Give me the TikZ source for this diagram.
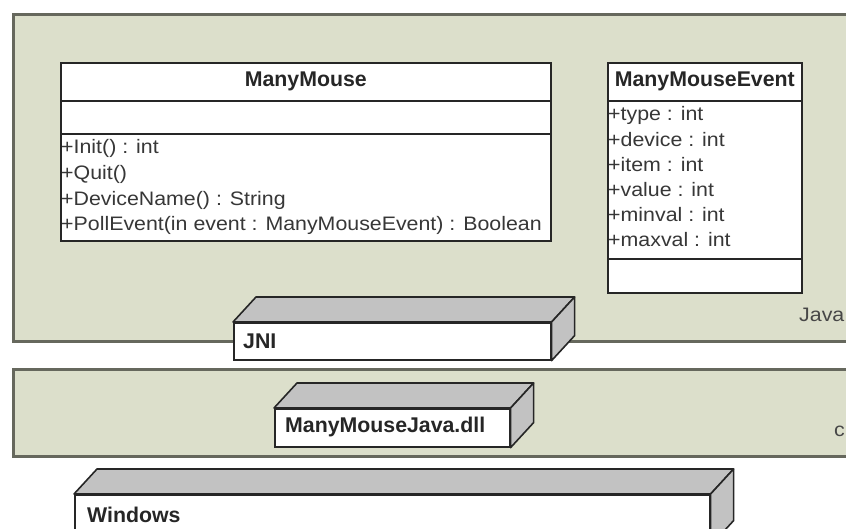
\documentclass[tikz,border=0pt]{standalone}
\usepackage{fontspec}
\setmainfont{Liberation Sans}
\newfontfamily\umlfont[FakeStretch=1.095]{Liberation Sans}
\usetikzlibrary{calc}

\definecolor{pkgfill}{HTML}{DCDFCB}
\definecolor{pkgline}{HTML}{66685D}
\definecolor{slabside}{HTML}{C2C2C2}
\definecolor{ink}{HTML}{262626}

\tikzset{
  pkg/.style={draw=pkgline, line width=2.6pt, fill=pkgfill, inner sep=0pt},
  classbox/.style={draw=ink, line width=1.6pt, fill=white, inner sep=0pt},
  divider/.style={draw=ink, line width=1.6pt},
  classname/.style={font=\fontsize{21.3}{25}\selectfont\bfseries, text=ink, inner sep=0pt},
  member/.style={font=\umlfont\fontsize{19.5}{23}\selectfont, text=ink!92!white, anchor=west, inner sep=1pt},
  slabfront/.style={draw=ink, line width=1.6pt, fill=white, inner sep=0pt},
  slabface/.style={draw=ink, line width=1.6pt, fill=slabside, line join=round},
  slablabel/.style={font=\fontsize{21.3}{25}\selectfont\bfseries, text=ink, anchor=west, inner sep=0pt},
  pkglabel/.style={font=\umlfont\fontsize{19.5}{23}\selectfont, text=ink!85!white, anchor=west, inner sep=0pt},
}

% top and right faces of a 3D slab whose front face is node #1
\newcommand\slabsides[1]{%
  \path[slabface] (#1.north west) -- ++(23,-25) -- ($(#1.north east)+(23,-25)$) -- (#1.north east) -- cycle;
  \path[slabface] (#1.north east) -- ++(23,-25) -- ($(#1.south east)+(23,-25)$) -- (#1.south east) -- cycle;
}

\begin{document}
\begin{tikzpicture}[x=1pt,y=-1pt]
\useasboundingbox (0,0) rectangle (846,528);
\fill[white] (0,0) rectangle (846,528);
\clip (0,0) rectangle (846,528);

% packages
\node[pkg, minimum width=880pt, minimum height=327pt, anchor=north west] (java) at (12,13) {};
\node[pkg, minimum width=880pt, minimum height=87pt, anchor=north west] (cpkg) at (12,368) {};
\node[pkglabel] (javalabel) at (799,315) {Java};
\node[pkglabel] (clabel) at (834,431) {c};

% class ManyMouse
\node[classbox, minimum width=490pt, minimum height=178pt, anchor=north west] (mm) at (60,62) {};
\path[divider] ($(mm.north west)+(0,39)$) -- ($(mm.north east)+(0,39)$);
\path[divider] ($(mm.north west)+(0,72)$) -- ($(mm.north east)+(0,72)$);
\node[classname] (mmname) at ($(mm.north)+(0,19.5)$) {ManyMouse};
\node[member] (mm1) at (60,148) {+Init() : int};
\node[member] (mm2) at (60,174) {+Quit()};
\node[member] (mm3) at (60,200) {+DeviceName() : String};
\node[member] (mm4) at (60,225) {+PollEvent(in event : ManyMouseEvent) : Boolean};

% class ManyMouseEvent
\node[classbox, minimum width=194pt, minimum height=230pt, anchor=north west] (mme) at (607,62) {};
\path[divider] ($(mme.north west)+(0,39)$) -- ($(mme.north east)+(0,39)$);
\path[divider] ($(mme.north west)+(0,197)$) -- ($(mme.north east)+(0,197)$);
\node[classname] (mmename) at ($(mme.north)+(0,19.5)$) {ManyMouseEvent};
\node[member] (mme1) at (607,115) {+type : int};
\node[member] (mme2) at (607,140) {+device : int};
\node[member] (mme3) at (607,165) {+item : int};
\node[member] (mme4) at (607,190) {+value : int};
\node[member] (mme5) at (607,215) {+minval : int};
\node[member] (mme6) at (607,240) {+maxval : int};

% JNI slab
\node[slabfront, minimum width=317pt, minimum height=37pt, anchor=north west] (jni) at (233,322) {};
\slabsides{jni}
\node[slablabel] (jnilabel) at (243,341) {JNI};

% native library slab
\node[slabfront, minimum width=235pt, minimum height=38pt, anchor=north west] (dll) at (274,408) {};
\slabsides{dll}
\node[slablabel] (dlllabel) at (285,427) {ManyMouseJava.dll};

% operating system slab
\node[slabfront, minimum width=635pt, minimum height=50pt, anchor=north west] (win) at (74,494) {};
\slabsides{win}
\node[slablabel] (winlabel) at (87,515) {Windows};
\end{tikzpicture}
\end{document}
